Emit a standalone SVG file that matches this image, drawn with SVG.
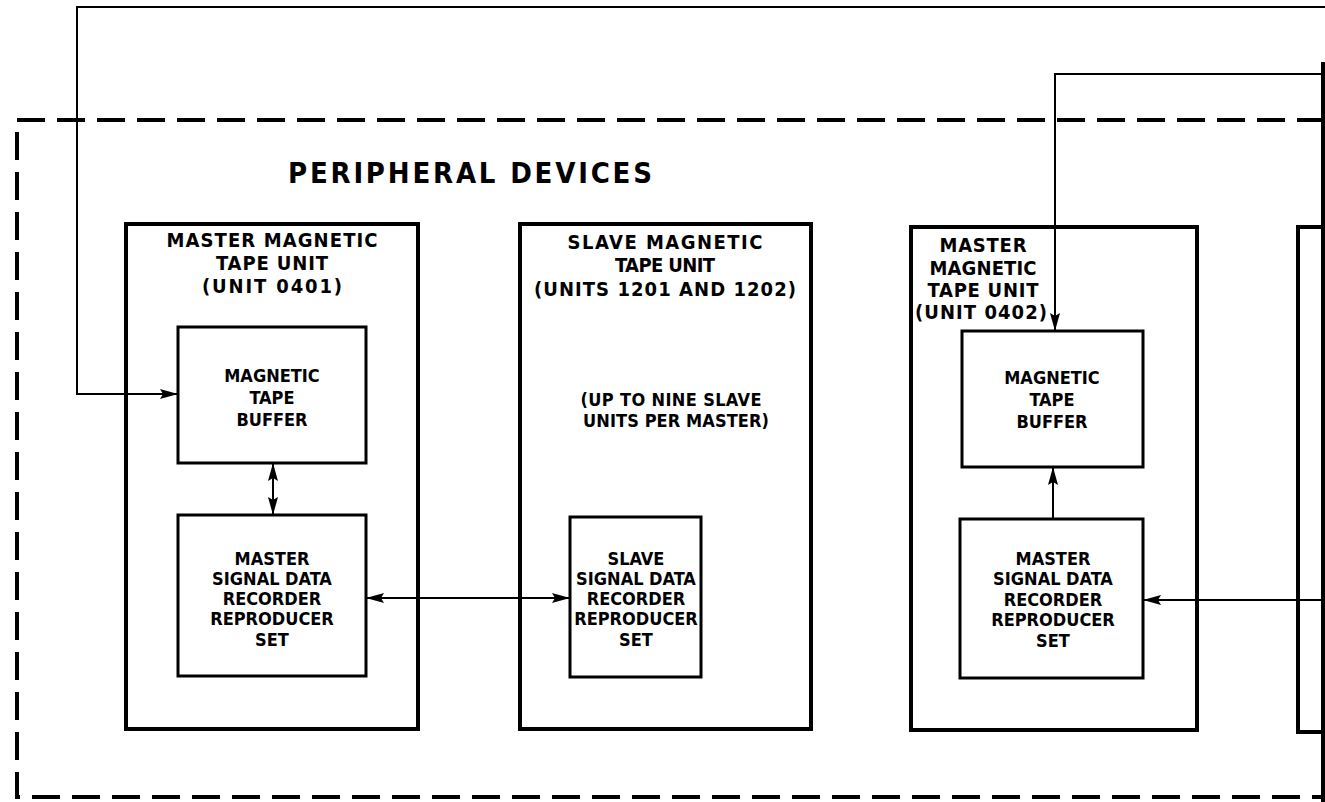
<svg xmlns="http://www.w3.org/2000/svg" width="1325" height="802" viewBox="0 0 1325 802">
<style>
.bg{fill:#ffffff}
.outer{fill:none;stroke:#000;stroke-width:4}
.inner{fill:none;stroke:#000;stroke-width:3}
.dash{fill:none;stroke:#000;stroke-width:4;stroke-dasharray:28 12}
.con{fill:none;stroke:#000;stroke-width:2}
.lbl{font-family:"DejaVu Sans Condensed","DejaVu Sans","Liberation Sans",sans-serif;font-stretch:condensed;font-weight:bold;font-size:20px;fill:#000;text-anchor:middle}
.txt{font-family:"DejaVu Sans Condensed","DejaVu Sans","Liberation Sans",sans-serif;font-stretch:condensed;font-weight:bold;font-size:18px;fill:#000;text-anchor:middle}
.title{font-family:"DejaVu Sans Condensed","DejaVu Sans","Liberation Sans",sans-serif;font-stretch:condensed;font-weight:bold;font-size:29px;fill:#000}
</style>
<defs>
<marker id="ah" viewBox="0 0 18 12" markerWidth="18" markerHeight="12" refX="18" refY="6" orient="auto-start-reverse" markerUnits="userSpaceOnUse">
<path d="M0,1 L18,6 L0,11 L3,6 z" fill="#000"/>
</marker>
</defs>
<rect class="bg" x="0" y="0" width="1325" height="802"/>

<g id="peripheral-devices">
<path class="dash" d="M1325,120 H17 V797 H1325"/>
<text class="title" x="288" y="183" textLength="364" lengthAdjust="spacing">PERIPHERAL DEVICES</text>
</g>

<g id="unit-0401">
<rect class="outer" x="126" y="224" width="292" height="505"/>
<text class="lbl" x="272" y="247" textLength="211" lengthAdjust="spacing">MASTER MAGNETIC</text>
<text class="lbl" x="272" y="270" textLength="112" lengthAdjust="spacing">TAPE UNIT</text>
<text class="lbl" x="272" y="293" textLength="140" lengthAdjust="spacing">(UNIT 0401)</text>
</g>
<g id="buffer-0401">
<rect class="inner" x="178" y="327" width="188" height="136"/>
<text class="txt" x="272" y="382">MAGNETIC</text>
<text class="txt" x="272" y="404">TAPE</text>
<text class="txt" x="272" y="426">BUFFER</text>
</g>
<g id="recorder-0401">
<rect class="inner" x="178" y="515" width="188" height="161"/>
<text class="txt" x="272" y="565">MASTER</text>
<text class="txt" x="272" y="585">SIGNAL DATA</text>
<text class="txt" x="272" y="605">RECORDER</text>
<text class="txt" x="272" y="625">REPRODUCER</text>
<text class="txt" x="272" y="646">SET</text>
</g>

<g id="slave-unit">
<rect class="outer" x="520" y="224" width="291" height="505"/>
<text class="lbl" x="665" y="249" textLength="195" lengthAdjust="spacing">SLAVE MAGNETIC</text>
<text class="lbl" x="665" y="272" textLength="100" lengthAdjust="spacing">TAPE UNIT</text>
<text class="lbl" x="665" y="296" textLength="262" lengthAdjust="spacing">(UNITS 1201 AND 1202)</text>
<text class="txt" x="671" y="406" textLength="181" lengthAdjust="spacing">(UP TO NINE SLAVE</text>
<text class="txt" x="676" y="427" textLength="186" lengthAdjust="spacing">UNITS PER MASTER)</text>
</g>
<g id="recorder-slave">
<rect class="inner" x="570" y="517" width="131" height="160"/>
<text class="txt" x="636" y="565">SLAVE</text>
<text class="txt" x="636" y="585">SIGNAL DATA</text>
<text class="txt" x="636" y="605">RECORDER</text>
<text class="txt" x="636" y="625">REPRODUCER</text>
<text class="txt" x="636" y="646">SET</text>
</g>

<g id="unit-0402">
<rect class="outer" x="911" y="227" width="286" height="503"/>
<text class="lbl" x="983" y="252" textLength="87" lengthAdjust="spacing">MASTER</text>
<text class="lbl" x="983" y="275" textLength="107" lengthAdjust="spacing">MAGNETIC</text>
<text class="lbl" x="983" y="297" textLength="111" lengthAdjust="spacing">TAPE UNIT</text>
<text class="lbl" x="981" y="319" textLength="132" lengthAdjust="spacing">(UNIT 0402)</text>
</g>
<g id="buffer-0402">
<rect class="inner" x="962" y="331" width="181" height="136"/>
<text class="txt" x="1052" y="384">MAGNETIC</text>
<text class="txt" x="1052" y="406">TAPE</text>
<text class="txt" x="1052" y="428">BUFFER</text>
</g>
<g id="recorder-0402">
<rect class="inner" x="960" y="519" width="183" height="159"/>
<text class="txt" x="1053" y="565">MASTER</text>
<text class="txt" x="1053" y="585">SIGNAL DATA</text>
<text class="txt" x="1053" y="606">RECORDER</text>
<text class="txt" x="1053" y="626">REPRODUCER</text>
<text class="txt" x="1053" y="647">SET</text>
</g>

<g id="unit-right-partial">
<path class="outer" d="M1327,227 H1298 V732 H1327"/>
<path d="M1323,62 V802" fill="none" stroke="#000" stroke-width="4"/>
</g>

<g id="connectors">
<path class="con" d="M1325,7 H77 V394 H178" marker-end="url(#ah)"/>
<path class="con" d="M1325,74 H1055 V331" marker-end="url(#ah)"/>
<path class="con" d="M273,463 V515" stroke-width="3" marker-start="url(#ah)" marker-end="url(#ah)"/>
<path class="con" d="M366,598 H570" marker-start="url(#ah)" marker-end="url(#ah)"/>
<path class="con" d="M1053,519 V467" stroke-width="3" marker-end="url(#ah)"/>
<path class="con" d="M1325,600 H1143" marker-end="url(#ah)"/>
</g>
</svg>
